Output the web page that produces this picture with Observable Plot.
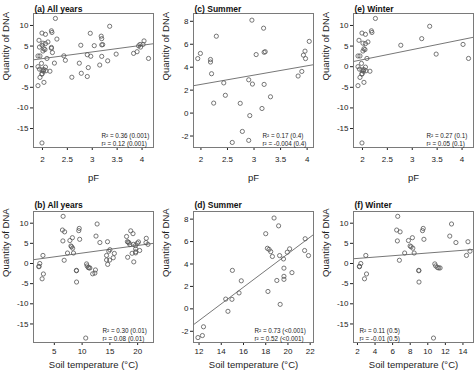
<!DOCTYPE html>
<html><head><meta charset="utf-8">
<script src="https://cdn.jsdelivr.net/npm/d3@7"></script>
<script src="https://cdn.jsdelivr.net/npm/@observablehq/plot@0.6"></script>
<style>
body{margin:0;background:#fff;}
#chart{position:relative;width:474px;height:377px;font-family:"Liberation Sans",Arial,sans-serif;}
#chart svg{position:absolute;overflow:visible;}
</style></head><body><div id="chart"></div>
<script>
// Summer samples
const summerPF = [2.96,3.18,2.29,4.04,3.96,3.21,3.19,1.99,3.04,3.93,1.94,3.97,2.18,2.18,3.90,2.20,3.83,2.90,2.43,2.97,3.19,2.46,3.31,2.24,2.74,3.15,2.92,2.78,2.90,2.59];
const summerTemp = [18.75,19.16,18.0,21.55,18.15,20.15,18.3,21.5,18.45,19.94,19.25,21.85,18.6,19.6,19.64,15.0,20.36,19.64,19.64,19.0,15.8,18.2,15.6,14.4,14.96,19.3,14.6,12.4,12.3,11.9];
const summerDNA = [8.1,7.4,6.7,6.25,5.4,5.35,5.3,5.2,5.1,5.05,4.75,4.75,4.67,4.45,3.63,3.43,3.23,2.9,2.63,2.53,2.5,1.55,1.42,0.87,0.85,0.4,-0.22,-1.6,-2.38,-2.56];
// Winter samples
const winterPF = [2.26,3.35,2.18,2.19,1.99,2.06,3.19,1.93,2.11,2.01,2.06,4.02,2.77,2.03,2.05,2.01,3.48,1.91,1.95,2.09,4.13,1.98,1.91,2.06,1.94,2.03,1.99,2.07,2.02,2.15,1.99,1.99,1.95,2.03,1.91,1.99];
const winterTemp = [6.58,12.7,9.48,6.46,9.4,6.85,12.5,8.25,9.56,7.8,6.54,14.57,13.2,7.99,8.1,8.3,14.8,7.37,8.45,2.95,14.4,6.77,2.38,10.8,10.9,2.23,2.23,11.1,11.25,11.4,8.98,8.98,3.03,2.8,9.0,10.65];
const winterDNA = [11.7,9.8,8.7,8.3,8.15,7.85,6.8,6.4,6.0,5.7,5.6,5.4,5.2,4.35,4.15,3.8,3.05,2.6,2.6,2.0,2.0,0.8,0.0,-0.1,-0.6,-0.7,-0.8,-1.0,-1.1,-1.1,-1.7,-1.8,-2.6,-3.8,-4.6,-18.5];

// Panel labels (order a, b, c, d, e, f)
const titles = ["(a) All years","(b) All years","(c) Summer","(d) Summer","(e) Winter","(f) Winter"];
const statR = ["R\u00b2 = 0.36 (0.001)","R\u00b2 = 0.30 (0.01)","R\u00b2 = 0.17 (0.4)","R\u00b2 = 0.73 (<0.001)","R\u00b2 = 0.27 (0.1)","R\u00b2 = 0.11 (0.5)"];
const statr = ["r\u00b2 = 0.12 (0.001)","r\u00b2 = 0.08 (0.01)","r\u00b2 = -0.004 (0.4)","r\u00b2 = 0.52 (<0.001)","r\u00b2 = 0.05 (0.1)","r\u00b2 = -0.01 (0.5)"];
// Fitted regression lines (intercept, slope)
const fitIntercept = [-1.28, 0.71, 0.88, -9.97, -3.18, 0.92];
const fitSlope = [1.62, 0.188, 0.81, 0.744, 2.44, 0.168];
// Axis ticks
const pfTicks = [2,2.5,3,3.5,4];
const tempTicksAll = [5,10,15,20];
const tempTicksSummer = [12,14,16,18,20,22];
const tempTicksWinter = [2,4,6,8,10,12,14];
const dnaTicksWide = [-15,-10,-5,0,5,10];
const dnaTicksSummer = [-2,0,2,4,6,8];
const xLabels = ["pF","Soil temperature (\u00b0C)"];
const yLabel = "Quantity of DNA";

const allPF = summerPF.concat(winterPF), allTemp = summerTemp.concat(winterTemp), allDNA = summerDNA.concat(winterDNA);

const panels = [
  {i:0,col:0,row:0,x:allPF,y:allDNA,xd:[1.82,4.23],yd:[-19.6,12.9],xt:pfTicks,yt:dnaTicksWide,sdx:68},
  {i:1,col:0,row:1,x:allTemp,y:allDNA,xd:[1.25,22.85],yd:[-19.6,12.9],xt:tempTicksAll,yt:dnaTicksWide,sdx:69},
  {i:2,col:1,row:0,x:summerPF,y:summerDNA,xd:[1.86,4.12],yd:[-3.0,8.68],xt:pfTicks,yt:dnaTicksSummer,sdx:69},
  {i:3,col:1,row:1,x:summerTemp,y:summerDNA,xd:[11.5,22.3],yd:[-3.0,8.68],xt:tempTicksSummer,yt:dnaTicksSummer,sdx:61},
  {i:4,col:2,row:0,x:winterPF,y:winterDNA,xd:[1.82,4.23],yd:[-19.6,12.9],xt:pfTicks,yt:dnaTicksWide,sdx:73},
  {i:5,col:2,row:1,x:winterTemp,y:winterDNA,xd:[1.55,15.2],yd:[-19.6,12.9],xt:tempTicksWinter,yt:dnaTicksWide,sdx:6}
];

const chart = document.getElementById("chart");
const fmt = d => String(d);
for (const p of panels) {
  const top = p.row === 0;
  const data = p.x.map((x, k) => ({x, y: p.y[k]}));
  const fit = p.xd.map(x => ({x, y: fitIntercept[p.i] + fitSlope[p.i] * x}));
  const svg = Plot.plot({
    width: 160,
    height: top ? 188 : 189,
    marginLeft: 33, marginRight: 7,
    marginTop: top ? 13 : 23,
    marginBottom: top ? 41 : 35,
    style: {fontFamily: '"Liberation Sans", Arial, sans-serif', fontSize: "8px", color: "#222", background: "transparent", overflow: "visible"},
    x: {domain: p.xd, ticks: p.xt, tickFormat: fmt, tickSize: 3, tickPadding: top ? 6 : 3, label: null},
    y: {domain: p.yd, ticks: p.yt, tickFormat: fmt, tickSize: 3, tickPadding: 2, label: null},
    marks: [
      Plot.frame({stroke: "#7a7a7a", strokeWidth: 1}),
      Plot.line(fit, {x: "x", y: "y", stroke: "#777", strokeWidth: 1, clip: true}),
      Plot.dot(data, {x: "x", y: "y", r: 2.1, stroke: "#555", strokeWidth: 0.8, fill: "none"}),
      Plot.text([titles[p.i]], {text: d => d, frameAnchor: "top-left", dx: 1, dy: top ? -8 : -10, textAnchor: "start", fontWeight: "bold", fontSize: 8.5, fill: "#111"}),
      Plot.text([statR[p.i] + "\n" + statr[p.i]], {text: d => d, frameAnchor: "bottom-left", dx: p.sdx, dy: -2, textAnchor: "start", lineAnchor: "bottom", lineHeight: 1.2, fontSize: 6.3, fill: "#222"}),
      Plot.text([yLabel], {text: d => d, frameAnchor: "left", dx: -28, rotate: -90, fontSize: 9.5, fill: "#222"}),
      Plot.text([xLabels[top ? 0 : 1]], {text: d => d, frameAnchor: "bottom", dy: top ? 33 : 25, fontSize: 9.5, fill: "#222"})
    ]
  });
  svg.style.left = (p.col * 160) + "px";
  svg.style.top = (top ? 0 : 188) + "px";
  chart.appendChild(svg);
}
</script></body></html>
